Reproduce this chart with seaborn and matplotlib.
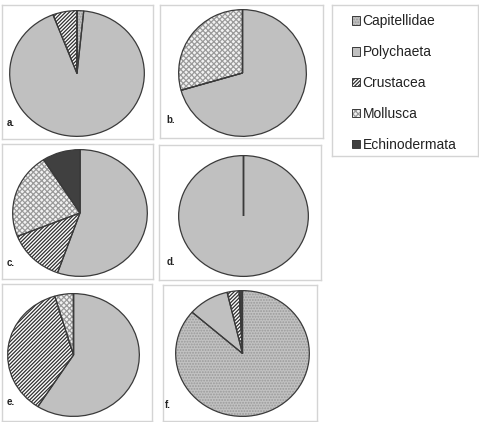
import matplotlib
matplotlib.use("Agg")
import matplotlib.pyplot as plt
from matplotlib.patches import Patch
import seaborn as sns

# categories and the share of each in the six samples
categories = ["Capitellidae", "Polychaeta", "Crustacea", "Mollusca", "Echinodermata"]
panel_labels = ["a.", "b.", "c.", "d.", "e.", "f."]
vals_a = [1.6, 92.6, 5.8, 0, 0]
vals_b = [0, 70.6, 0, 29.4, 0]
vals_c = [0, 55.4, 13.6, 21.9, 9.1]
vals_d = [0, 100, 0, 0, 0]
vals_e = [0, 59.1, 36.3, 4.6, 0]
vals_f = [86.4, 9.9, 2.9, 0, 0.8]
panels = [vals_a, vals_b, vals_c, vals_d, vals_e, vals_f]

# fill styles (face, hatch, hatch colour) per category
faces = ["#c2c2c2", "#c0c0c0", "white", "#f2f2f2", "#404040"]
hatches = ["......", None, "/////////", "xxxxxx", None]
hatch_cols = ["#9a9a9a", "#c0c0c0", "#303030", "#9a9a9a", "#404040"]
line_col = "#3a3a3a"
frame_col = "#d4d4d4"

sns.set_style("white")
plt.rcParams["font.family"] = ["Liberation Sans", "DejaVu Sans"]
plt.rcParams["hatch.linewidth"] = 0.9

W, H = 479, 422
fig = plt.figure(figsize=(W / 100, H / 100), dpi=100)


def box(x0, y0, x1, y1):
    return [x0 / W, 1 - y1 / H, (x1 - x0) / W, (y1 - y0) / H]


# panel frames, pie extents and label positions in pixels
frames = [(2, 5, 153, 139), (160, 5, 323, 138), (2, 144, 153, 279),
          (159, 145, 321, 280), (2, 284, 152, 421), (163, 285, 317, 421)]
pie_boxes = [(9, 10, 145, 137), (178, 9, 307, 137), (12, 149, 148, 277),
             (178, 155, 309, 277), (7, 293, 140, 417), (175, 290, 310, 417)]
label_pos = [(7, 123), (166, 120), (7, 263), (167, 262), (7, 402), (165, 405)]

for vals, fr, pb, lab, lp in zip(panels, frames, pie_boxes, panel_labels, label_pos):
    fax = fig.add_axes(box(*fr))
    fax.set_xticks([])
    fax.set_yticks([])
    for sp in fax.spines.values():
        sp.set_color(frame_col)
        sp.set_linewidth(1.0)
    fax.patch.set_alpha(0)

    pax = fig.add_axes(box(*pb))
    wedges, _ = pax.pie(vals, colors=faces, hatch=hatches, startangle=90,
                        counterclock=False, wedgeprops=dict(linewidth=0))
    for w, hc in zip(wedges, hatch_cols):
        w.set_edgecolor(hc)
        w.set_linewidth(0)
    pax.pie(vals, colors=["none"] * 5, startangle=90, counterclock=False,
            wedgeprops=dict(linewidth=0.9, edgecolor=line_col, fill=False))
    pax.set_aspect("auto")
    pax.set_xlim(-1.01, 1.01)
    pax.set_ylim(-1.01, 1.01)
    pax.axis("off")

    fig.text(lp[0] / W, 1 - lp[1] / H, lab, fontsize=7, fontweight="bold",
             color="#222222", ha="left", va="center")

# legend box
lax = fig.add_axes(box(332, 5, 478, 156))
lax.set_xticks([])
lax.set_yticks([])
for sp in lax.spines.values():
    sp.set_color(frame_col)
    sp.set_linewidth(1.0)

handles = []
for fc, h, hc in zip(faces, hatches, hatch_cols):
    handles.append((Patch(facecolor=fc, hatch=h, edgecolor=hc, linewidth=0),
                    Patch(fill=False, edgecolor=line_col, linewidth=0.7)))
lax.legend(handles, categories, loc="upper left", bbox_to_anchor=(0.1, 0.975),
           frameon=False, fontsize=10, handlelength=0.55, handleheight=0.55,
           handletextpad=0.2, labelspacing=1.22, borderaxespad=0,
           labelcolor="#222222")

fig.savefig("out.png", dpi=100)
